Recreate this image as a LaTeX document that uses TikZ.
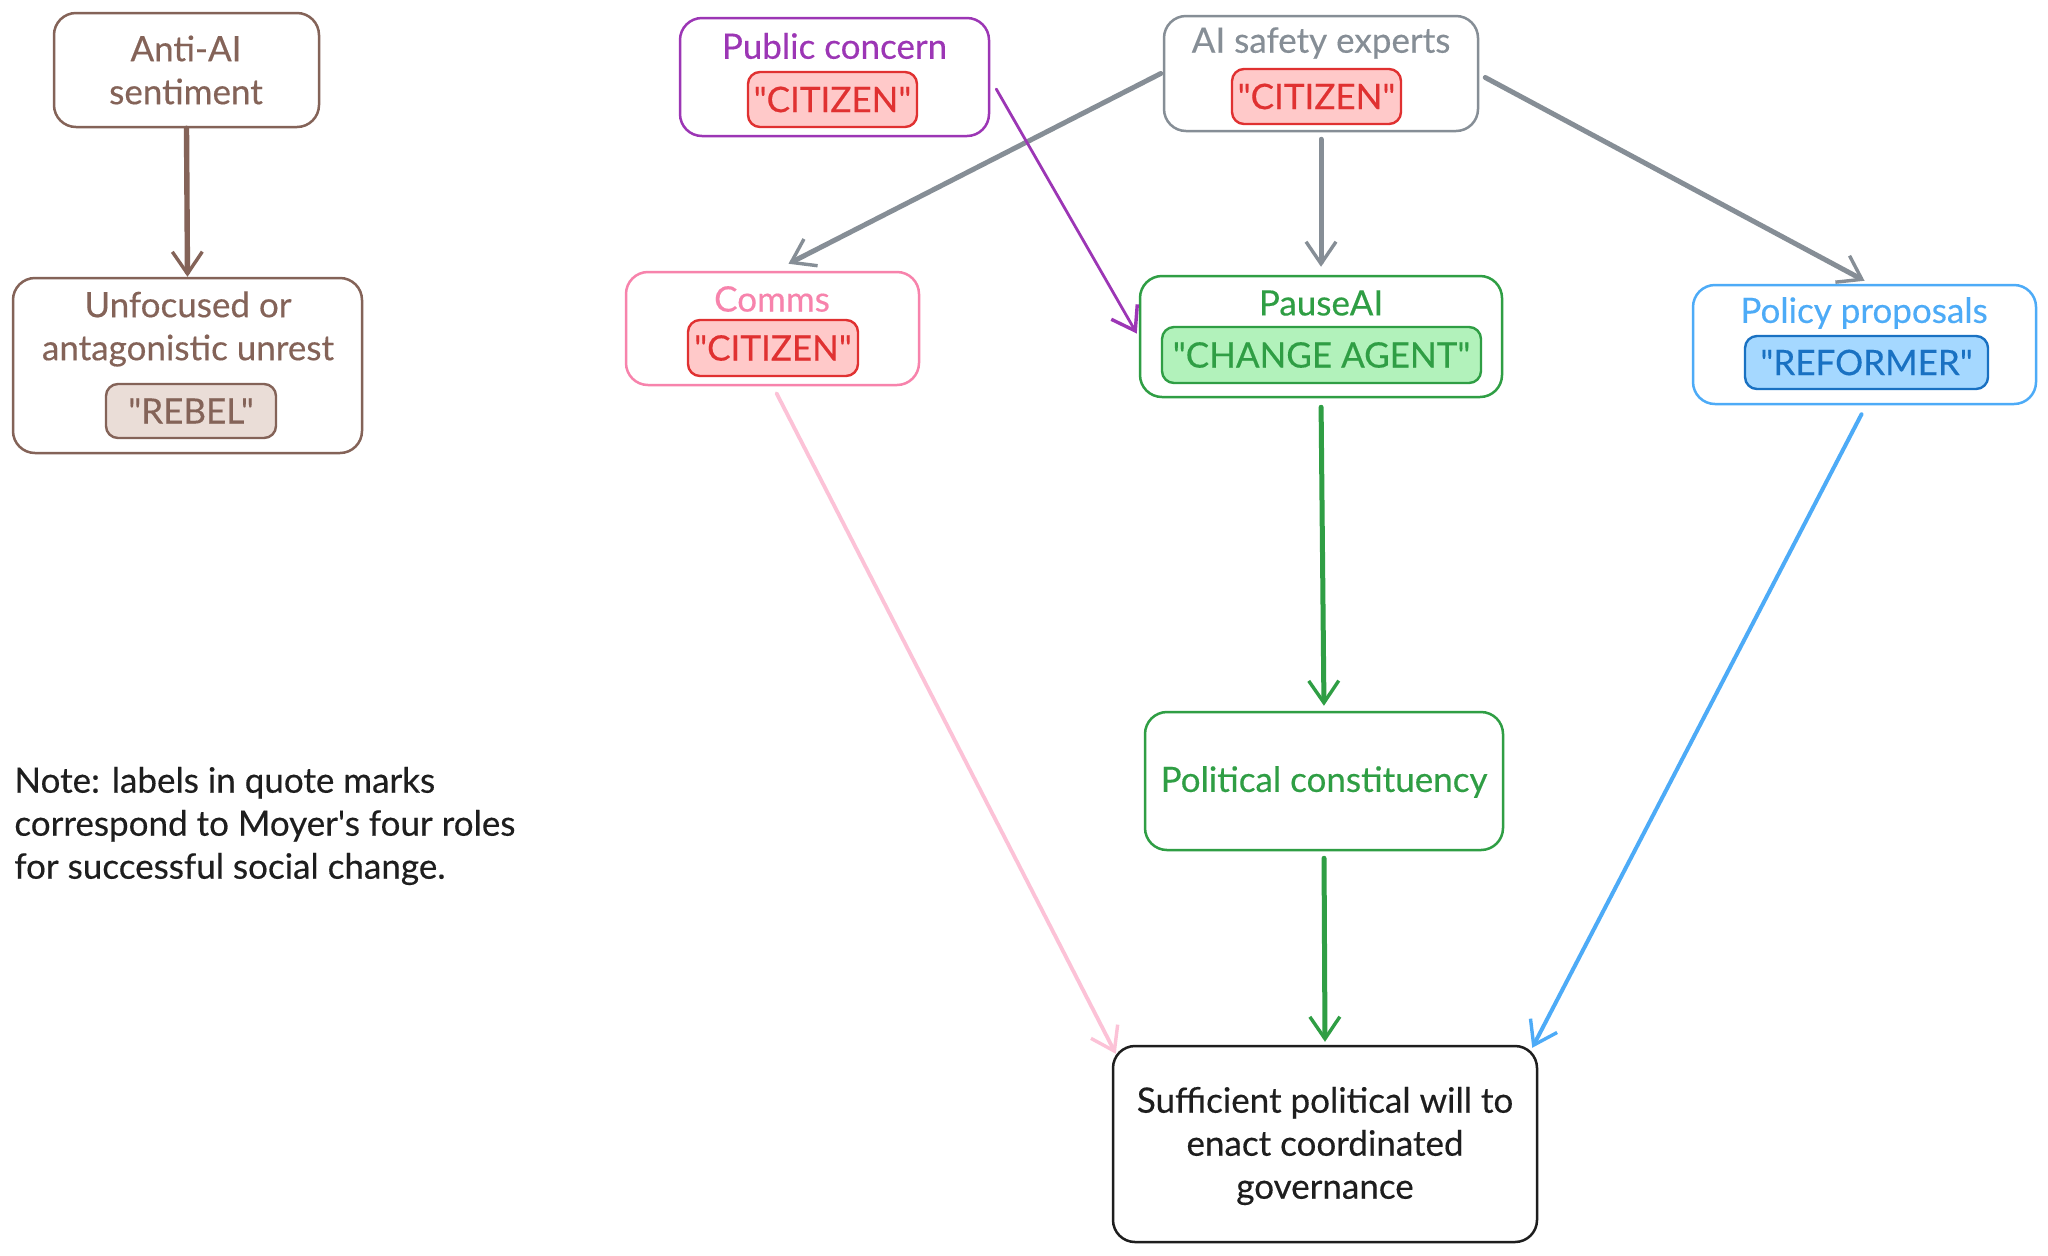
\documentclass[tikz,border=0pt]{standalone}
\usepackage{fontspec}
\setmainfont{Lato}[Ligatures=TeXOff, UprightFeatures={FakeBold=0.35}]
\usetikzlibrary{arrows.meta,fit,calc}
\definecolor{cbrown}{HTML}{846358}
\definecolor{cbrownfill}{HTML}{EADDD7}
\definecolor{cpurple}{HTML}{9C36B5}
\definecolor{cred}{HTML}{E03131}
\definecolor{credfill}{HTML}{FFC9C9}
\definecolor{cgray}{HTML}{868E96}
\definecolor{cpink}{HTML}{F783AC}
\definecolor{cpinklight}{HTML}{FCC2D7}
\definecolor{cgreen}{HTML}{2F9E44}
\definecolor{cgreenfill}{HTML}{B2F2BB}
\definecolor{cblue}{HTML}{4DABF7}
\definecolor{cbluedark}{HTML}{1971C2}
\definecolor{cbluefill}{HTML}{A5D8FF}
\definecolor{cblack}{HTML}{1E1E1E}
\newcommand\dq{\symbol{34}}
\newcommand\apos{\symbol{39}}
\begin{document}
\begin{tikzpicture}[x=0.5pt,y=-0.5pt,
  box/.style={draw, rounded corners=11pt, line width=1.25pt, inner sep=0pt},
  tagbox/.style={draw, rounded corners=6pt, line width=1.2pt, inner sep=0pt, font=\fontsize{17.5}{21.5}\selectfont},
  txt/.style={inner sep=0pt, align=center, font=\fontsize{17.5}{21.5}\selectfont},
  conn/.style={-{Straight Barb[length=11pt,width=15pt,line width=1.7pt]}, line cap=round, line join=round},
]
\useasboundingbox (0,0) rectangle (2048,1255);
\fill[white] (0,0) rectangle (2048,1255);

% Anti-AI
\node[box, draw=cbrown, fit={(54,13) (319,127)}] (anti) {};
\node[txt, text=cbrown] (antit) at (186,70) {Anti-AI\\sentiment};
% Unfocused
\node[box, draw=cbrown, fit={(13,278) (362,453)}] (unf) {};
\node[txt, text=cbrown] (unft) at (188,329) {Unfocused or\\antagonistic unrest};
\node[tagbox, draw=cbrown, fill=cbrownfill, text=cbrown, minimum width=85pt, minimum height=27pt] (rebel) at (191,411) {\dq REBEL\dq};

% Public concern
\node[box, draw=cpurple, fit={(680,18) (989,136)}] (pub) {};
\node[txt, text=cpurple] (pubt) at (834.5,46) {Public concern};
\node[tagbox, draw=cred, fill=credfill, text=cred, minimum width=84.5pt, minimum height=27.5pt] (pubtag) at (832.5,99.5) {\dq CITIZEN\dq};

% AI safety experts
\node[box, draw=cgray, fit={(1164,16) (1478,131)}] (ai) {};
\node[txt, text=cgray] (ait) at (1321,43) {AI safety experts};
\node[tagbox, draw=cred, fill=credfill, text=cred, minimum width=84.5pt, minimum height=27.5pt] (aitag) at (1316.5,96.5) {\dq CITIZEN\dq};

% Comms
\node[box, draw=cpink, fit={(626,272) (919,385)}] (comms) {};
\node[txt, text=cpink] (commst) at (772,299) {Comms};
\node[tagbox, draw=cred, fill=credfill, text=cred, minimum width=85pt, minimum height=28pt] (commstag) at (773,348) {\dq CITIZEN\dq};

% PauseAI
\node[box, draw=cgreen, fit={(1140,276) (1502,397)}] (pause) {};
\node[txt, text=cgreen] (pauset) at (1321,303) {PauseAI};
\node[tagbox, draw=cgreen, fill=cgreenfill, text=cgreen, minimum width=159.5pt, minimum height=28pt] (pausetag) at (1321.5,355) {\dq CHANGE AGENT\dq};

% Policy proposals
\node[box, draw=cblue, fit={(1693,285) (2036,404)}] (policy) {};
\node[txt, text=cblue] (policyt) at (1864,313) {Policy proposals};
\node[tagbox, draw=cbluedark, fill=cbluefill, text=cbluedark, minimum width=121.5pt, minimum height=26.5pt] (policytag) at (1866.5,362.5) {\dq REFORMER\dq};

% Political constituency
\node[box, draw=cgreen, fit={(1145,712) (1503,850)}] (pol) {};
\node[txt, text=cgreen] (polt) at (1324,782) {Political constituency};

% Sufficient political will
\node[box, draw=cblack, fit={(1113,1046) (1537,1242)}] (suff) {};
\node[txt, text=cblack] (sufft) at (1325,1146) {Sufficient political will to\\enact coordinated\\governance};

% Note
\node[txt, text=cblack, align=left, anchor=west] (note) at (14,826) {Note: labels in quote marks\\correspond to Moyer\apos s four roles\\for successful social change.};

% Connectors
\draw[conn, cbrown, line width=2.7pt] (anti.south) -- (unf.north);
\draw[conn, cgray, line width=2.5pt] ([xshift=-1pt]ai.west) -- ([xshift=8pt,yshift=3.5pt]comms.north);
\draw[conn, cgray, line width=2.5pt, shorten <=3.5pt, shorten >=4pt] (ai.south) -- (pause.north);
\draw[conn, cgray, line width=2.5pt] ([xshift=3pt,yshift=-2pt]ai.east) -- ([yshift=1.5pt]policy.north);
\draw[conn, cpurple, line width=1.4pt] ([xshift=3pt,yshift=-6pt]pub.east) -- ([xshift=-1pt,yshift=1.5pt]pause.west);
\draw[conn, cpinklight, line width=1.9pt] ([xshift=2pt,yshift=-3.5pt]comms.south) -- ([xshift=2pt,yshift=-4.5pt]suff.north west);
\draw[conn, cgreen, line width=2.5pt, shorten <=4.5pt, shorten >=2.5pt] (pause.south) -- (pol.north);
\draw[conn, cgreen, line width=2.5pt, shorten <=3.5pt, shorten >=1.5pt] (pol.south) -- (suff.north);
\draw[conn, cblue, line width=2pt] ([xshift=-1.5pt,yshift=-4.5pt]policy.south) -- ([xshift=-3pt,yshift=-1.5pt]suff.north east);
\end{tikzpicture}
\end{document}
